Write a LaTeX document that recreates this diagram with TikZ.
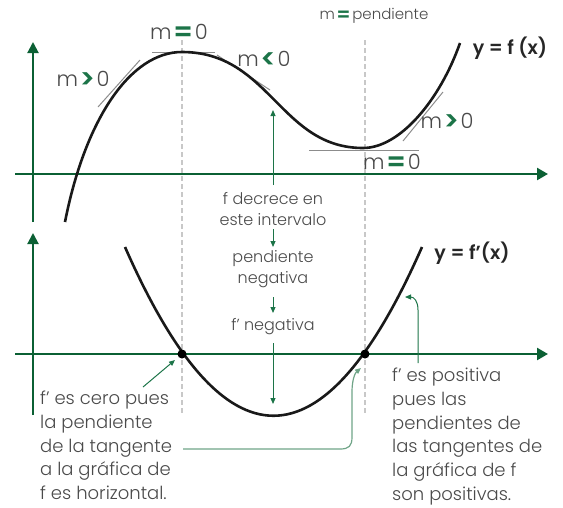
\documentclass[tikz,border=0pt]{standalone}
\usepackage{fontspec}
\setmainfont{Poppins}[UprightFont={* Light},BoldFont={* SemiBold}]
\usetikzlibrary{arrows.meta}
\definecolor{axgreen}{HTML}{0B6034}
\definecolor{argreen}{HTML}{1C7448}
\definecolor{lgreen}{HTML}{6FA487}
\definecolor{txtgray}{HTML}{4A4A4A}
\definecolor{tangray}{HTML}{8C8C8C}
\definecolor{dashgray}{HTML}{C8C8C8}
\newcommand{\grn}[1]{\kern1.5pt{\color{argreen}\raisebox{-0.11em}{\scalebox{1.3}{\bfseries #1}}}\kern1.5pt}
\tikzset{
  xaxis/.style={draw=axgreen, line width=2.4pt, -{Triangle[width=12pt,length=11pt]}},
  yaxis/.style={draw=axgreen, line width=2pt, -{Triangle[width=11pt,length=11pt]}},
  curve/.style={draw=black!90, line width=2.6pt},
  tangent/.style={draw=tangray, line width=1pt},
  guide/.style={draw=dashgray, line width=1.2pt, dash pattern=on 5pt off 3pt},
  note/.style={draw=argreen, line width=1pt, -{Triangle[width=5pt,length=6pt]}},
  softnote/.style={draw=lgreen, line width=1.2pt, -{Triangle[width=5pt,length=6pt]}},
  dot/.style={circle, fill=black, inner sep=0pt, minimum size=9pt},
  mlab/.style={text=txtgray, inner sep=0pt, font=\fontsize{21}{21}\selectfont},
  eqlab/.style={text=black!85, inner sep=0pt, font=\fontsize{19}{19}\selectfont\bfseries},
  midtxt/.style={text=txtgray, inner sep=0pt, align=center, font=\fontsize{16}{21}\selectfont},
  sidetxt/.style={text=txtgray, inner sep=0pt, align=left, font=\fontsize{18}{23.7}\selectfont},
}
\begin{document}
\begin{tikzpicture}[x=1pt,y=-1pt]
\useasboundingbox (0,0) rectangle (563,507);
% guides
\draw[guide] (182,40) -- (182,413);
\draw[guide] (365,40) -- (365,413);
% axes
\coordinate (tx0) at (15,174); \coordinate (tx1) at (548,174);
\coordinate (ty0) at (33,222); \coordinate (ty1) at (33,42);
\coordinate (bx0) at (15,354); \coordinate (bx1) at (548,354);
\coordinate (by0) at (33,415); \coordinate (by1) at (33,233);
\draw[xaxis] (tx0) -- (tx1);
\draw[yaxis] (ty0) -- (ty1);
\draw[xaxis] (bx0) -- (bx1);
\draw[yaxis] (by0) -- (by1);
% tangents
\draw[tangent] (152,52) -- (215,52);
\draw[tangent] (98,107) -- (140,60);
\draw[tangent] (217,55) -- (270,90);
\draw[tangent] (309,150) -- (419,150);
\draw[tangent] (403,141) -- (443,92);
% f
\draw[curve] (65,222) .. controls (85,120) and (130,52) .. (182,52)
  .. controls (270,52) and (280,148) .. (363,148)
  .. controls (400,148) and (440,100) .. (460,43);
% f'
\draw[curve] (125,247) .. controls (224,472) and (323,472) .. (422,247);
\node[dot] (z1) at (182,354) {};
\node[dot] (z2) at (365,354) {};
% labels
\node[mlab] (m1) at (83,80) {m\grn{>}0};
\node[mlab] (m2) at (179,33) {m\grn{=}0};
\node[mlab] (m3) at (264,60) {m\grn{<}0};
\node[mlab] (m4) at (447,122) {m\grn{>}0};
\node[mlab] (m5) at (392,163) {m\grn{=}0};
\node[mlab, font=\fontsize{15}{15}\selectfont] (m6) at (374,16) {m\grn{=}pendiente};
\node[eqlab] (e1) at (510,48) {y = f (x)};
\node[eqlab] (e2) at (472,253) {y = f’(x)};
% middle chain
\node[midtxt] (t1) at (273,209) {f decrece en\\este intervalo};
\node[midtxt] (t2) at (273,269) {pendiente\\negativa};
\node[midtxt] (t3) at (273,327) {f’ negativa};
\coordinate (a1s) at (273,185); \coordinate (a1e) at (273,110);
\coordinate (a2s) at (273,229); \coordinate (a2e) at (273,247);
\coordinate (a3s) at (273,297); \coordinate (a3e) at (273,313);
\coordinate (a4s) at (273,343); \coordinate (a4e) at (273,404);
\draw[note] (a1s) -- (a1e);
\draw[note] (a2s) -- (a2e);
\draw[note] (a3s) -- (a3e);
\draw[note] (a4s) -- (a4e);
% side texts
\node[sidetxt, anchor=north west] (left) at (40,391)
  {f’ es cero pues\\la pendiente\\de la tangente\\a la gráfica de\\f es horizontal.};
\node[sidetxt, anchor=north west] (right) at (392,368)
  {f’ es positiva\\pues las\\pendientes de\\las tangentes de\\la gráfica de f\\son positivas.};
\coordinate (l1) at (143,387); \coordinate (l2) at (175,360);
\draw[note] (l1) -- (l2);
\coordinate (b0) at (183,449); \coordinate (b1) at (361,368);
\draw[softnote] (b0) -- (340,449) .. controls (349,449) and (352,446) .. (352,437)
  -- (352,392) .. controls (352,380) and (355,373) .. (b1);
\coordinate (r0) at (418,363); \coordinate (r1) at (405,297);
\draw[note] (r0) -- (418,310) .. controls (418,301) and (414,297) .. (r1);
\end{tikzpicture}
\end{document}
